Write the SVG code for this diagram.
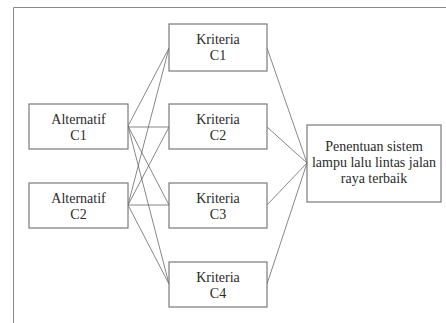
<svg xmlns="http://www.w3.org/2000/svg" width="446" height="323" viewBox="0 0 446 323">
<style>
.box{fill:#fff;stroke:#7a7a7a;stroke-width:1.2}
.t{font-family:'Liberation Serif',serif;font-size:14px;fill:#2a2a2a;text-anchor:middle}
.c line{stroke:#555;stroke-width:0.7}
</style>
<rect x="0" y="0" width="446" height="323" fill="#fff"/>
<path d="M13.5 323V7.5H446" fill="none" stroke="#8a8a8a" stroke-width="1"/>
<g id="connectors" class="c">
<line x1="128" y1="126" x2="169" y2="48"/>
<line x1="128" y1="127" x2="169" y2="127"/>
<line x1="128" y1="126" x2="169" y2="205"/>
<line x1="128" y1="126" x2="169" y2="284"/>
<line x1="128" y1="205" x2="169" y2="48"/>
<line x1="128" y1="205" x2="169" y2="127"/>
<line x1="128" y1="205" x2="169" y2="205"/>
<line x1="128" y1="205" x2="169" y2="284"/>
<line x1="267" y1="48" x2="307" y2="163"/>
<line x1="267" y1="127" x2="307" y2="163"/>
<line x1="267" y1="205" x2="307" y2="163"/>
<line x1="267" y1="284" x2="307" y2="163"/>
</g>
<g id="alt1"><rect class="box" x="29" y="104" width="99" height="45"/><text class="t" x="78.5" y="124">Alternatif</text><text class="t" x="78.5" y="140">C1</text></g>
<g id="alt2"><rect class="box" x="29" y="183" width="99" height="45"/><text class="t" x="78.5" y="203">Alternatif</text><text class="t" x="78.5" y="219">C2</text></g>
<g id="k1"><rect class="box" x="169" y="24" width="98" height="47"/><text class="t" x="218" y="44">Kriteria</text><text class="t" x="218" y="60">C1</text></g>
<g id="k2"><rect class="box" x="169" y="104" width="98" height="45"/><text class="t" x="218" y="124">Kriteria</text><text class="t" x="218" y="140">C2</text></g>
<g id="k3"><rect class="box" x="169" y="183" width="98" height="45"/><text class="t" x="218" y="203">Kriteria</text><text class="t" x="218" y="219">C3</text></g>
<g id="k4"><rect class="box" x="169" y="262" width="98" height="45"/><text class="t" x="218" y="282">Kriteria</text><text class="t" x="218" y="298">C4</text></g>
<g id="goal"><rect class="box" x="307" y="125" width="134" height="77"/><text class="t" x="374" y="151">Penentuan sistem</text><text class="t" x="374" y="167">lampu lalu lintas jalan</text><text class="t" x="374" y="183">raya terbaik</text></g>
</svg>
